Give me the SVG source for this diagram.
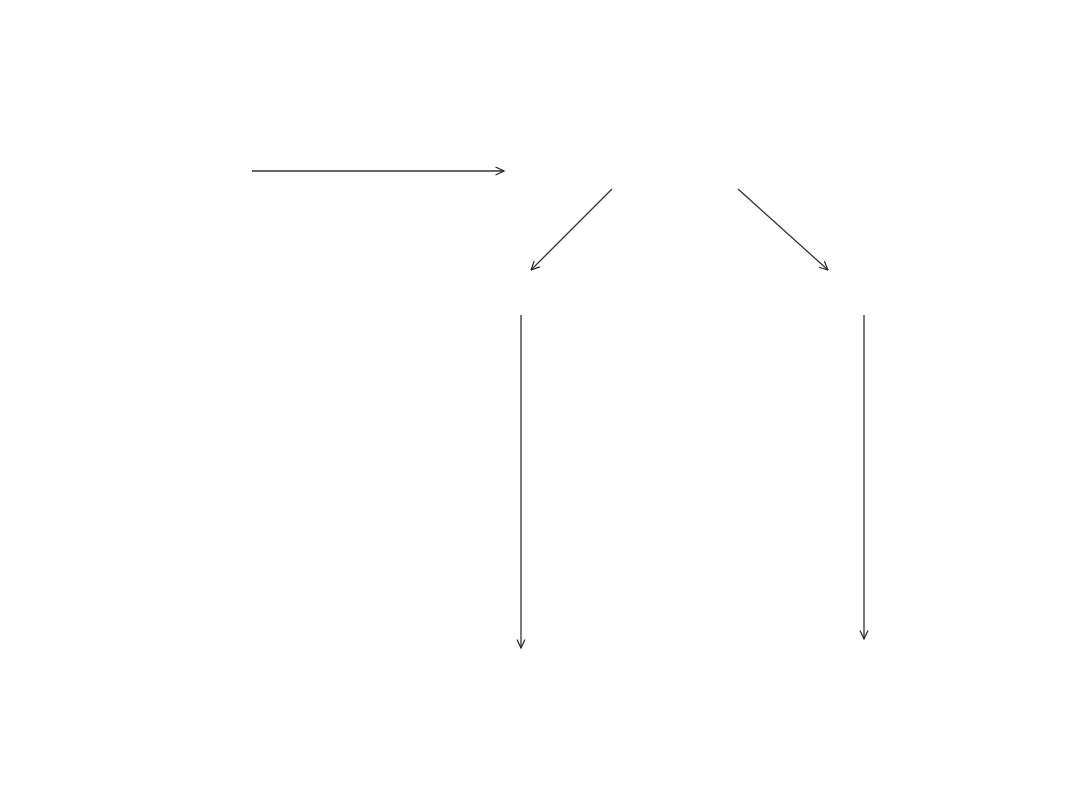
<svg xmlns="http://www.w3.org/2000/svg" width="1080" height="810" viewBox="0 0 1080 810">
<defs>
<marker id="arr" viewBox="0 0 10 10" refX="9.5" refY="5" markerWidth="10" markerHeight="10" markerUnits="userSpaceOnUse" orient="auto">
<path d="M1,1 L9.5,5 L1,9" fill="none" stroke="#222" stroke-width="1.2"/>
</marker>
<style>
.c{fill:none;stroke:#333;stroke-width:1.3;marker-end:url(#arr)}
</style>
</defs>
<rect width="1080" height="810" fill="#fff"/>
<g id="connectors">
<line class="c" x1="252" y1="171" x2="504" y2="171"/>
<line class="c" x1="612" y1="189" x2="531" y2="270"/>
<line class="c" x1="738" y1="189" x2="828" y2="270"/>
<line class="c" x1="521" y1="315" x2="521" y2="648"/>
<line class="c" x1="864" y1="315" x2="864" y2="639"/>
</g>
</svg>
